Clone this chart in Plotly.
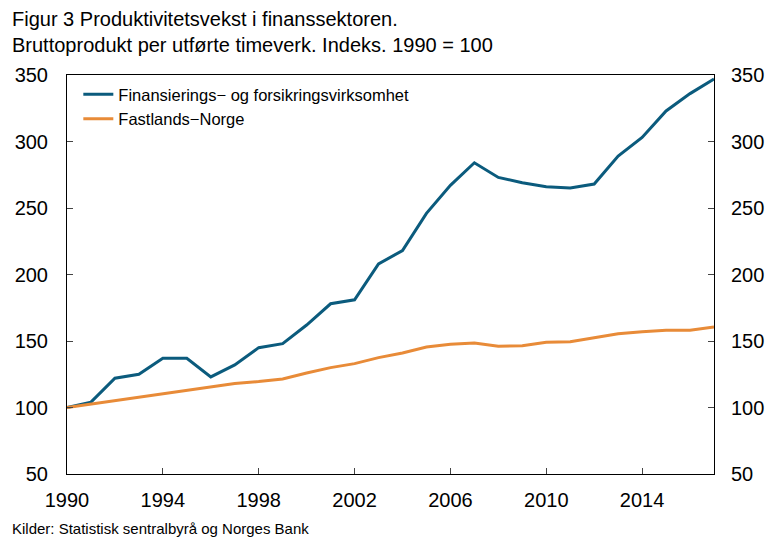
import plotly.graph_objects as go

# data
years = list(range(1990, 2018))
finans = [100, 104, 122, 125, 137, 137, 123, 132, 145, 148, 162, 178, 181, 208, 218,
          246, 267, 284, 273, 269, 266, 265, 268, 289, 303, 323, 336, 347]
fastland = [100, 102.5, 105, 107.5, 110, 112.5, 115.5, 118, 119.5, 121.5, 126, 130, 133,
            137.5, 141, 145.5, 147.5, 148.5, 146, 146.5, 149, 149.5, 152.5, 155.5, 157,
            158, 158, 160.5]
series_names = ["Finansierings\u2212 og forsikringsvirksomhet", "Fastlands\u2212Norge"]
y_ticks = [50, 100, 150, 200, 250, 300, 350]
x_ticks = [1990, 1994, 1998, 2002, 2006, 2010, 2014]

font = "Liberation Sans, Arial, Helvetica, sans-serif"

fig = go.Figure()
fig.add_trace(go.Scatter(x=years, y=finans, mode="lines", name=series_names[0],
                         line=dict(color="#0b5b7d", width=3)))
# second series on the right-hand axis (same scale) so both axes get drawn
fig.add_trace(go.Scatter(x=years, y=fastland, mode="lines", name=series_names[1],
                         yaxis="y2", line=dict(color="#e88b38", width=3)))

axis_common = dict(ticks="inside", ticklen=6, tickcolor="#444", showgrid=False,
                   zeroline=False, showline=True, linecolor="black", linewidth=1,
                   automargin=False,
                   tickfont=dict(size=20, color="black", family=font))

fig.update_layout(
    width=768, height=537,
    paper_bgcolor="white", plot_bgcolor="white",
    margin=dict(l=67, r=54, t=75, b=63),
    font=dict(family=font, color="black"),
    showlegend=True,
    legend=dict(x=0.0175, y=0.995, xanchor="left", yanchor="top",
                bgcolor="rgba(0,0,0,0)", font=dict(size=16.5, family=font),
                itemwidth=30, tracegroupgap=0),
    xaxis=dict(range=[1990, 2017], tickvals=x_ticks, mirror=True,
               ticklabelstandoff=8, **axis_common),
    yaxis=dict(range=[50, 350], tickvals=y_ticks, ticklabelstandoff=14, **axis_common),
    yaxis2=dict(range=[50, 350], tickvals=y_ticks, overlaying="y", side="right",
                ticklabelstandoff=12, **axis_common),
    annotations=[
        dict(text="Figur 3 Produktivitetsvekst i finanssektoren.<br>"
                  "Bruttoprodukt per utførte timeverk. Indeks. 1990 = 100",
             xref="paper", yref="paper", x=-57 / 647, y=1 + 69 / 399,
             xanchor="left", yanchor="top", align="left", showarrow=False,
             font=dict(size=20, family=font)),
        dict(text="Kilder: Statistisk sentralbyrå og Norges Bank",
             xref="paper", yref="paper", x=-57 / 647, y=-54 / 399,
             xanchor="left", yanchor="middle", showarrow=False,
             font=dict(size=15, family=font)),
    ],
)

fig.write_html("out.html", config={"displayModeBar": False},
               post_script="document.body.style.margin='0px';")
